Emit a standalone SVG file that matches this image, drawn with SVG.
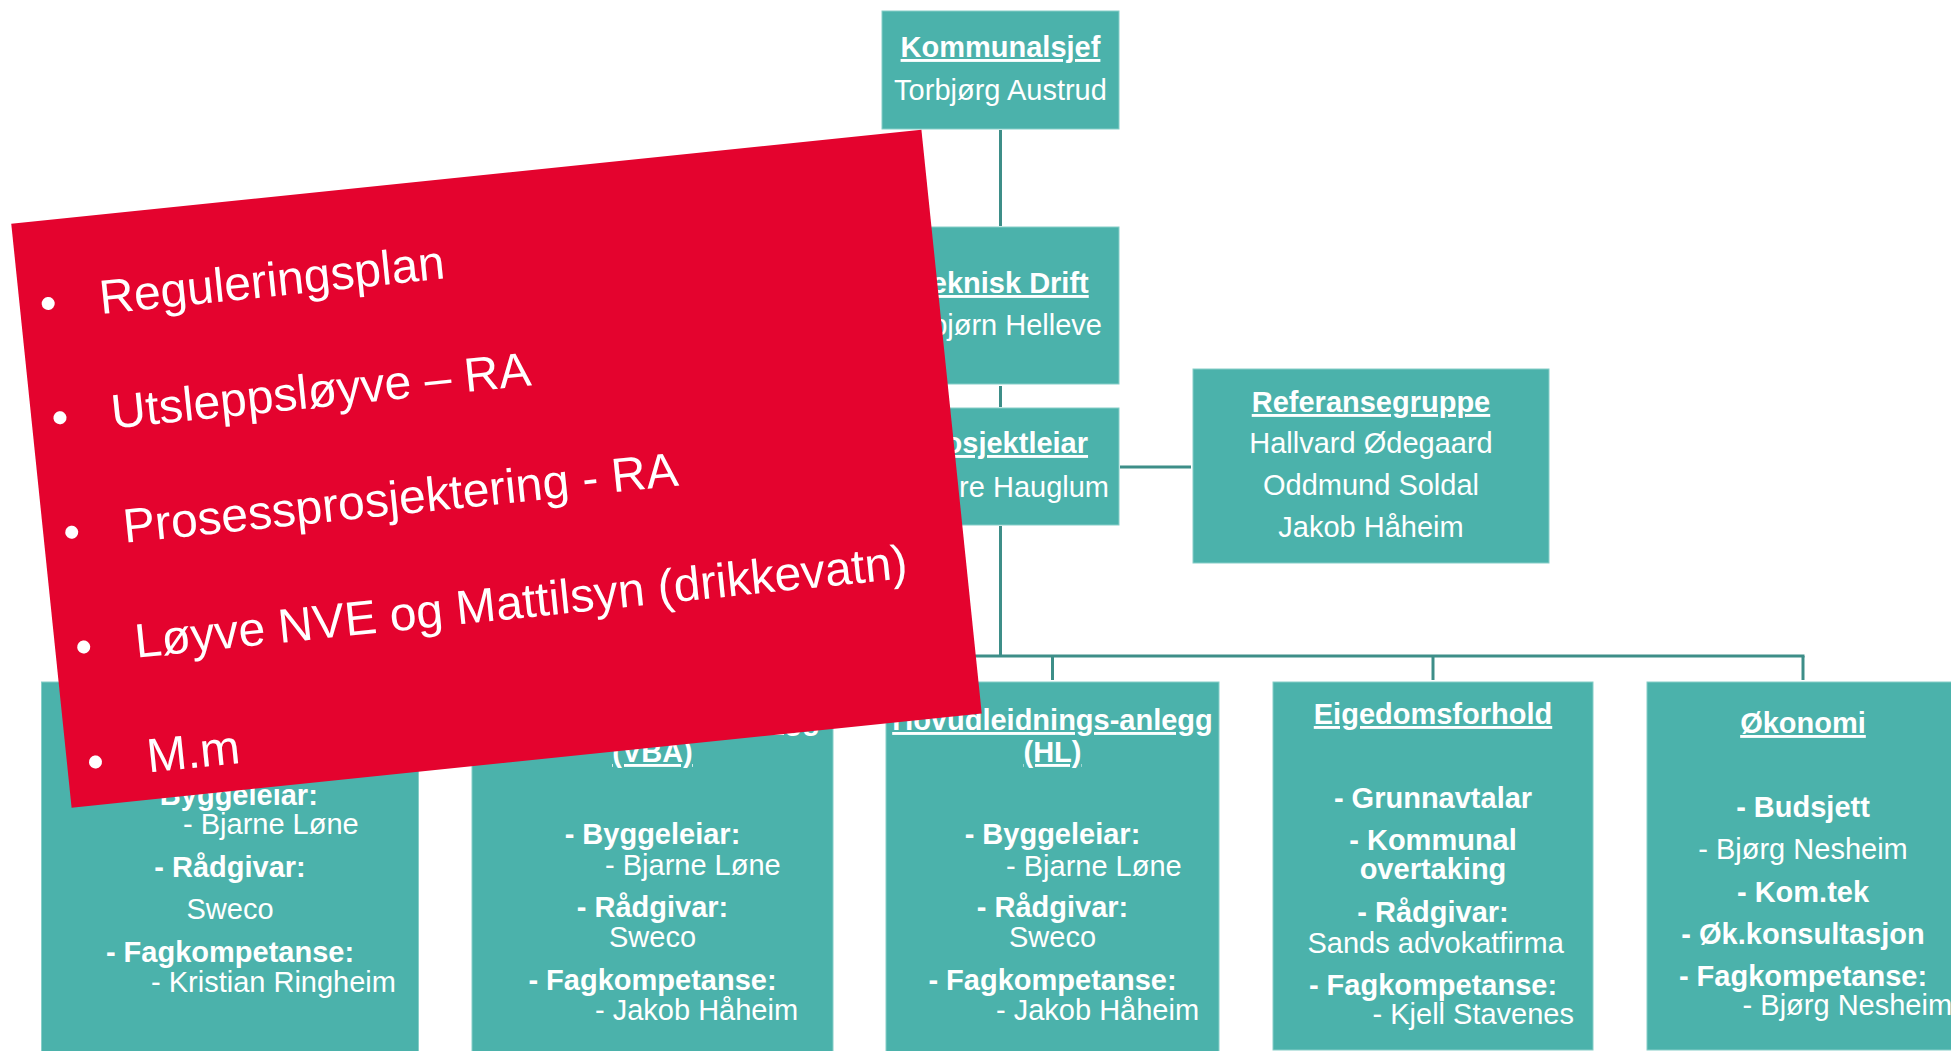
<svg xmlns="http://www.w3.org/2000/svg" width="1951" height="1051" viewBox="0 0 1951 1051">
<style>
.box{fill:#4BB2AB;stroke:#86CEC8;stroke-width:1}
.t{font-family:"Liberation Sans",Arial,sans-serif;font-size:29px;fill:#fff}
.b{font-weight:bold}
.u{text-decoration:underline}
.m{text-anchor:middle}
.e{text-anchor:end}
.conn line{stroke:#3D8E88;stroke-width:3}
.r{font-family:"Liberation Sans",Arial,sans-serif;font-size:48px;fill:#fff}
</style>
<rect width="1951" height="1051" fill="#fff"/>
<g id="connectors" class="conn">
<line x1="1000.5" y1="130" x2="1000.5" y2="226"/>
<line x1="1000.5" y1="386" x2="1000.5" y2="407"/>
<line x1="1000.5" y1="526" x2="1000.5" y2="656"/>
<line x1="1120" y1="467" x2="1191" y2="467"/>
<line x1="228.5" y1="656" x2="1804.5" y2="656"/>
<line x1="230" y1="656" x2="230" y2="680"/>
<line x1="652.5" y1="656" x2="652.5" y2="680"/>
<line x1="1052.5" y1="656" x2="1052.5" y2="680"/>
<line x1="1433" y1="656" x2="1433" y2="680"/>
<line x1="1803" y1="656" x2="1803" y2="680"/>
</g>
<g id="kommunalsjef">
<rect class="box" x="882" y="11" width="237" height="118"/>
<text class="t b u m" x="1000.5" y="57">Kommunalsjef</text>
<text class="t m" x="1000.5" y="100">Torbjørg Austrud</text>
</g>
<g id="teknisk-drift">
<rect class="box" x="882" y="227" width="237" height="157"/>
<text class="t b u m" x="1002" y="293">Teknisk Drift</text>
<text class="t e" x="1102" y="335">bjørn Helleve</text>
</g>
<g id="prosjektleiar">
<rect class="box" x="882" y="408" width="237" height="117"/>
<text class="t b u m" x="1001" y="453">Prosjektleiar</text>
<text class="t e" x="1109" y="497">re Hauglum</text>
</g>
<g id="referansegruppe">
<rect class="box" x="1193" y="369" width="356" height="194"/>
<text class="t b u m" x="1371" y="412">Referansegruppe</text>
<text class="t m" x="1371" y="453">Hallvard Ødegaard</text>
<text class="t m" x="1371" y="495">Oddmund Soldal</text>
<text class="t m" x="1371" y="537">Jakob Håheim</text>
</g>
<g id="box-ra">
<rect class="box" x="41.5" y="682" width="377" height="370"/>
<text class="t b m" x="230" y="805">- Byggeleiar:</text>
<text class="t" x="183" y="834">- Bjarne Løne</text>
<text class="t b m" x="230" y="877">- Rådgivar:</text>
<text class="t m" x="230" y="919">Sweco</text>
<text class="t b m" x="230" y="962">- Fagkompetanse:</text>
<text class="t" x="151" y="992">- Kristian Ringheim</text>
</g>
<g id="box-vba">
<rect class="box" x="472" y="682" width="361" height="370"/>
<text class="t b u e" x="820" y="730">Vassbehandlings-anlegg</text>
<text class="t b u m" x="652.5" y="762">(VBA)</text>
<text class="t b m" x="652.5" y="844">- Byggeleiar:</text>
<text class="t" x="605" y="875">- Bjarne Løne</text>
<text class="t b m" x="652.5" y="917">- Rådgivar:</text>
<text class="t m" x="652.5" y="947">Sweco</text>
<text class="t b m" x="652.5" y="990">- Fagkompetanse:</text>
<text class="t" x="595" y="1020">- Jakob Håheim</text>
</g>
<g id="box-hl">
<rect class="box" x="886" y="682" width="333" height="370"/>
<text class="t b u m" x="1052.5" y="730">Hovudleidnings-anlegg</text>
<text class="t b u m" x="1052.5" y="762">(HL)</text>
<text class="t b m" x="1052.5" y="844">- Byggeleiar:</text>
<text class="t" x="1006" y="876">- Bjarne Løne</text>
<text class="t b m" x="1052.5" y="917">- Rådgivar:</text>
<text class="t m" x="1052.5" y="947">Sweco</text>
<text class="t b m" x="1052.5" y="990">- Fagkompetanse:</text>
<text class="t" x="996" y="1020">- Jakob Håheim</text>
</g>
<g id="box-eigedom">
<rect class="box" x="1273" y="682" width="320" height="368"/>
<text class="t b u m" x="1433" y="724">Eigedomsforhold</text>
<text class="t b m" x="1433" y="808">- Grunnavtalar</text>
<text class="t b m" x="1433" y="850">- Kommunal</text>
<text class="t b m" x="1433" y="879">overtaking</text>
<text class="t b m" x="1433" y="922">- Rådgivar:</text>
<text class="t" x="1307.5" y="953">Sands advokatfirma</text>
<text class="t b m" x="1433" y="995">- Fagkompetanse:</text>
<text class="t" x="1372.5" y="1024">- Kjell Stavenes</text>
</g>
<g id="box-okonomi">
<rect class="box" x="1647" y="682" width="320" height="368"/>
<text class="t b u m" x="1803" y="733">Økonomi</text>
<text class="t b m" x="1803" y="817">- Budsjett</text>
<text class="t m" x="1803" y="859">- Bjørg Nesheim</text>
<text class="t b m" x="1803" y="902">- Kom.tek</text>
<text class="t b m" x="1803" y="944">- Øk.konsultasjon</text>
<text class="t b m" x="1803" y="986">- Fagkompetanse:</text>
<text class="t" x="1742.6" y="1015">- Bjørg Nesheim</text>
</g>
<g id="red-note" transform="translate(496.5,468.7) rotate(-5.9)">
<rect x="-457.5" y="-293.5" width="915" height="587" fill="#E4032E"/>
<text class="r m" x="-429" y="-194.5">•</text>
<text class="r" x="-377.5" y="-194.5">Reguleringsplan</text>
<text class="r m" x="-429" y="-79.5">•</text>
<text class="r" x="-377.5" y="-79.5">Utsleppsløyve – RA</text>
<text class="r m" x="-429" y="35.5">•</text>
<text class="r" x="-377.5" y="35.5">Prosessprosjektering - RA</text>
<text class="r m" x="-429" y="151">•</text>
<text class="r" x="-377.5" y="151">Løyve NVE og Mattilsyn (drikkevatn)</text>
<text class="r m" x="-429" y="266.5">•</text>
<text class="r" x="-377.5" y="266.5">M.m</text>
</g>
</svg>
